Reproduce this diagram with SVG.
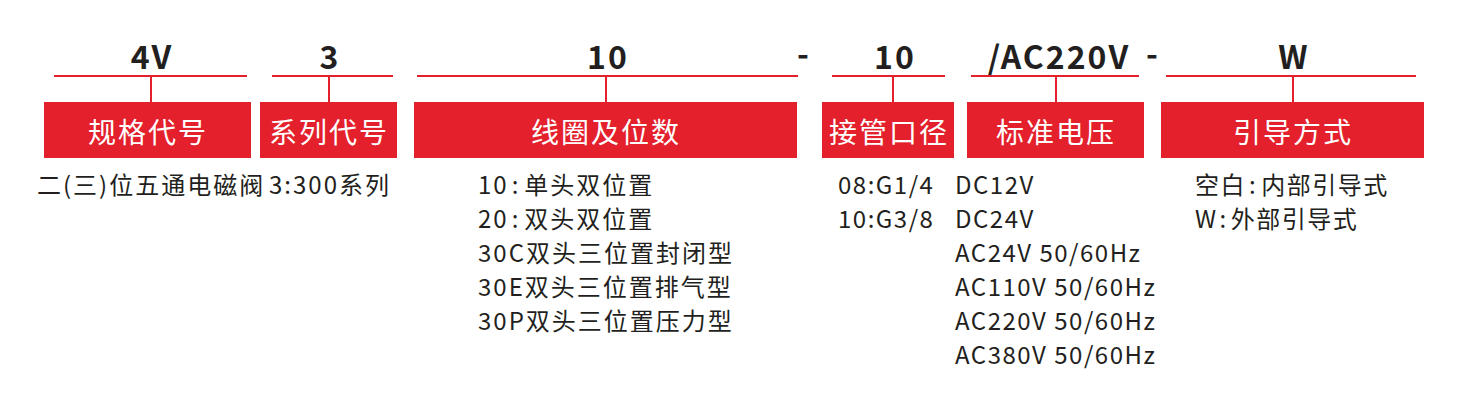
<svg xmlns="http://www.w3.org/2000/svg" width="1462" height="411" viewBox="0 0 1462 411">
<style>
.bg{fill:#ffffff}
.box{fill:#e4202c}
.ln{stroke:#e4202c;stroke-width:2;fill:none}
.code{font-family:"Noto Sans CJK SC","Noto Sans",sans-serif;font-weight:700;font-size:32px;fill:#231f20;text-anchor:middle;letter-spacing:2px}
.lbl{font-family:"Noto Sans CJK SC",sans-serif;font-size:28px;fill:#ffffff;text-anchor:middle;letter-spacing:2px}
.desc{font-family:"Noto Sans CJK SC",sans-serif;font-size:24px;fill:#231f20;letter-spacing:1.5px}
.wide{letter-spacing:2px}
</style>
<rect class="bg" x="0" y="0" width="1462" height="411"/>
<g id="connectors">
<line class="ln" x1="54" y1="76" x2="247" y2="76"/>
<line class="ln" x1="151" y1="76" x2="151" y2="102"/>
<line class="ln" x1="272" y1="76" x2="393" y2="76"/>
<line class="ln" x1="329" y1="76" x2="329" y2="102"/>
<line class="ln" x1="417" y1="76" x2="798" y2="76"/>
<line class="ln" x1="606" y1="76" x2="606" y2="102"/>
<line class="ln" x1="832" y1="76" x2="945" y2="76"/>
<line class="ln" x1="893" y1="76" x2="893" y2="102"/>
<line class="ln" x1="971" y1="76" x2="1139" y2="76"/>
<line class="ln" x1="1056" y1="76" x2="1056" y2="102"/>
<line class="ln" x1="1166" y1="76" x2="1416" y2="76"/>
<line class="ln" x1="1293" y1="76" x2="1293" y2="102"/>
</g>
<g id="dashes">
<text class="code" x="804" y="66">-</text>
<text class="code" x="1153" y="66">-</text>
</g>
<g id="node-spec">
<text class="code" x="152" y="69">4V</text>
<rect class="box" x="44" y="102" width="207" height="56"/>
<text class="lbl" x="148" y="143">规格代号</text>
<text class="desc wide" x="37" y="194">二(三)位五通电磁阀</text>
</g>
<g id="node-series">
<text class="code" x="330" y="69">3</text>
<rect class="box" x="260" y="102" width="137" height="56"/>
<text class="lbl" x="329" y="143">系列代号</text>
<text class="desc wide" x="269" y="194">3:300系列</text>
</g>
<g id="node-coil">
<text class="code" x="608" y="69">10</text>
<rect class="box" x="414" y="102" width="383" height="56"/>
<text class="lbl" x="606" y="143">线圈及位数</text>
<text class="desc wide" x="478" y="194">10<tspan dx="3">:</tspan><tspan dx="4">单头双位置</tspan></text>
<text class="desc wide" x="478" y="228">20<tspan dx="3">:</tspan><tspan dx="4">双头双位置</tspan></text>
<text class="desc wide" x="478" y="262">30C双头三位置封闭型</text>
<text class="desc wide" x="478" y="296">30E双头三位置排气型</text>
<text class="desc wide" x="478" y="330">30P双头三位置压力型</text>
</g>
<g id="node-pipe">
<text class="code" x="895" y="69">10</text>
<rect class="box" x="822" y="102" width="132" height="56"/>
<text class="lbl" x="889" y="143">接管口径</text>
<text class="desc" x="838" y="194">08:G1/4</text>
<text class="desc" x="838" y="228">10:G3/8</text>
</g>
<g id="node-voltage">
<text class="code" x="1059" y="69">/AC220V</text>
<rect class="box" x="967" y="102" width="177" height="56"/>
<text class="lbl" x="1056" y="143">标准电压</text>
<text class="desc" x="955" y="194">DC12V</text>
<text class="desc" x="955" y="228">DC24V</text>
<text class="desc" x="955" y="262">AC24V 50/60Hz</text>
<text class="desc" x="955" y="296">AC110V 50/60Hz</text>
<text class="desc" x="955" y="330">AC220V 50/60Hz</text>
<text class="desc" x="955" y="364">AC380V 50/60Hz</text>
</g>
<g id="node-lead">
<text class="code" x="1294" y="69">W</text>
<rect class="box" x="1161" y="102" width="263" height="56"/>
<text class="lbl" x="1293" y="143">引导方式</text>
<text class="desc" x="1195" y="194">空白<tspan dx="3">:</tspan><tspan dx="4">内部引导式</tspan></text>
<text class="desc" x="1195" y="228">W<tspan dx="2">:</tspan><tspan dx="3">外部引导式</tspan></text>
</g>
</svg>
